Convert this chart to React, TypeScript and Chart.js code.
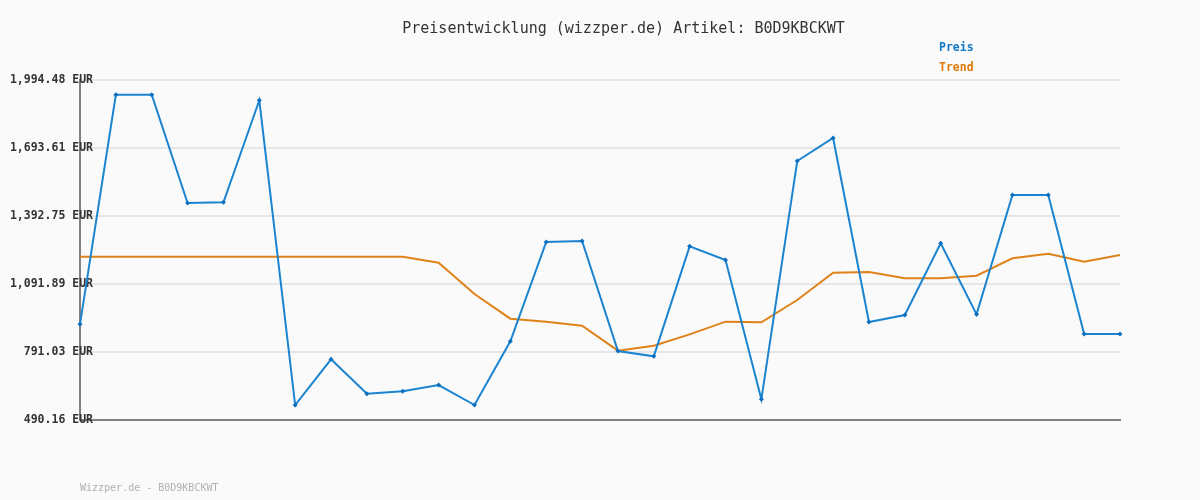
import React, { useEffect, useRef } from "react";
import { Chart, registerables } from "chart.js";

Chart.register(...registerables);

const TITLE = "Preisentwicklung (wizzper.de) Artikel: B0D9KBCKWT";
const FOOTER = "Wizzper.de - B0D9KBCKWT";

const labels = [
  "1", "2", "3", "4", "5", "6", "7", "8", "9", "10",
  "11", "12", "13", "14", "15", "16", "17", "18", "19", "20",
  "21", "22", "23", "24", "25", "26", "27", "28", "29", "30",
];

const preis = [
  913.6, 1929.5, 1929.5, 1450.3, 1453.3, 1904.7, 556.5, 758.7, 606.6, 617.0,
  645.0, 556.5, 838.3, 1277.7, 1282.2, 795.4, 771.9, 1258.6, 1198.1, 581.6,
  1636.1, 1737.9, 923.8, 954.7, 1271.8, 957.7, 1485.7, 1485.7, 870.7, 870.7,
];

const trend = [
  1212.9, 1212.9, 1212.9, 1212.9, 1212.9, 1212.9, 1212.9, 1212.9, 1212.9, 1212.9,
  1186.3, 1047.6, 938.5, 925.2, 907.5, 796.9, 819.0, 869.2, 925.2, 922.3,
  1021.1, 1142.0, 1145.0, 1117.0, 1117.0, 1128.7, 1205.5, 1226.0, 1190.7, 1220.2,
];

const yTicks = [490.16, 791.03, 1091.89, 1392.75, 1693.61, 1994.48];

const BLUE = "#1a84d0";
const BLUE_TEXT = "#0f78c6";
const ORANGE = "#e0821a";
const ORANGE_TEXT = "#e07a0a";
const MONO = "'DejaVu Sans Mono', monospace";

const decorPlugin = {
  id: "decor",
  beforeDraw(chart: any) {
    const { ctx, width, height } = chart;
    ctx.save();
    ctx.fillStyle = "#fafafa";
    ctx.fillRect(0, 0, width, height);
    ctx.restore();
  },
  afterDraw(chart: any) {
    const { ctx } = chart;
    ctx.save();
    ctx.textBaseline = "alphabetic";
    // title
    ctx.font = `15px ${MONO}`;
    ctx.fillStyle = "#333333";
    ctx.textAlign = "center";
    ctx.fillText(TITLE, 623.5, 33);
    // legend
    ctx.textAlign = "left";
    ctx.font = `bold 11.5px ${MONO}`;
    const ds = chart.data.datasets;
    ctx.fillStyle = BLUE_TEXT;
    ctx.fillText(ds[0].label, 939, 51);
    ctx.fillStyle = ORANGE_TEXT;
    ctx.fillText(ds[1].label, 939, 71);
    // footer
    ctx.font = `10px ${MONO}`;
    ctx.fillStyle = "#b0b0b0";
    ctx.fillText(FOOTER, 80, 491);
    ctx.restore();
  },
};

export default function App() {
  const ref = useRef<HTMLCanvasElement | null>(null);

  useEffect(() => {
    if (!ref.current) return;
    const chart = new Chart(ref.current, {
      type: "line",
      data: {
        labels,
        datasets: [
          {
            label: "Preis",
            data: preis,
            borderColor: BLUE,
            backgroundColor: "#0a6fbf",
            borderWidth: 2,
            pointStyle: "rectRot",
            pointRadius: 2.5,
            pointBorderWidth: 0,
            pointBackgroundColor: "#0a6fbf",
            tension: 0,
            order: 0,
          },
          {
            label: "Trend",
            data: trend,
            borderColor: ORANGE,
            borderWidth: 2,
            pointRadius: 0,
            tension: 0,
            order: 1,
          },
        ],
      },
      options: {
        responsive: false,
        animation: false,
        layout: { padding: { left: 0, right: 80, top: 80, bottom: 80 } },
        plugins: {
          legend: { display: false },
          title: { display: false },
          tooltip: { enabled: false },
        },
        scales: {
          x: {
            type: "category",
            offset: false,
            grid: { display: false, drawTicks: false },
            border: { display: true, color: "#808080", width: 2 },
            ticks: { display: false },
            afterFit: (s: any) => {
              s.height = 0;
            },
          },
          y: {
            min: yTicks[0],
            max: yTicks[yTicks.length - 1],
            afterBuildTicks: (s: any) => {
              s.ticks = yTicks.map((v) => ({ value: v }));
            },
            afterFit: (s: any) => {
              s.width = 80;
              // let the labels overlap the axis line, as in the reference
              s._computeLabelArea = () => undefined;
            },
            grid: { color: "#e6e6e6", lineWidth: 2, drawTicks: false },
            border: { display: true, color: "#808080", width: 2 },
            ticks: {
              padding: -13,
              color: "#333333",
              font: { family: "DejaVu Sans Mono", size: 11.5, weight: "bold" },
              callback: (v: any) =>
                Number(v).toLocaleString("en-US", {
                  minimumFractionDigits: 2,
                  maximumFractionDigits: 2,
                }) + " EUR",
            },
          },
        },
      },
      plugins: [decorPlugin],
    } as any);
    return () => chart.destroy();
  }, []);

  return (
    <div style={{ position: "fixed", left: 0, top: 0, width: 1200, height: 500 }}>
      <canvas ref={ref} width={1200} height={500} />
    </div>
  );
}
